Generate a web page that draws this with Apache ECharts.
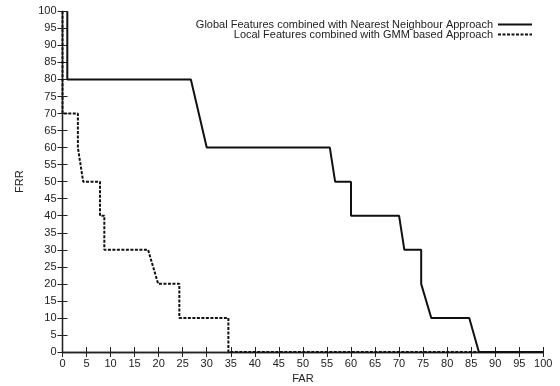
<!DOCTYPE html>
<html>
<head>
<meta charset="utf-8">
<script src="https://cdn.jsdelivr.net/npm/echarts@6/dist/echarts.min.js"></script>
<style>html,body{margin:0;padding:0;background:#fff}#c{width:560px;height:386px}</style>
</head>
<body>
<div id="c"></div>
<script>
var globalFAR = [1, 1, 26.7, 30, 55.6, 56.7, 60, 60, 70, 71.1, 74.6, 74.6, 76.7, 84.6, 86.6, 100];
var globalFRR = [100, 80, 80, 60, 60, 50, 50, 40, 40, 30, 30, 20, 10, 10, 0, 0];
var localFAR = [0, 0, 3.2, 3.2, 4.3, 7.8, 7.8, 8.7, 8.7, 17.8, 19.9, 24.3, 24.3, 34.5, 34.5, 100];
var localFRR = [100, 70, 70, 60, 50, 50, 40, 40, 30, 30, 20, 20, 10, 10, 0, 0];
var seriesNames = ['Global Features combined with Nearest Neighbour Approach', 'Local Features combined with GMM based Approach'];
var axisNames = ['FAR', 'FRR'];

function pairs(xs, ys) { return xs.map(function (x, i) { return [x, ys[i]]; }); }

var font = 'Liberation Sans, Arial, sans-serif';
var fs = 11;
var txt = '#222';
var axisLine = { show: true, lineStyle: { color: '#222', width: 1.3 } };
var tick = { show: true, inside: true, length: 5, lineStyle: { color: '#222', width: 1 } };

var chart = echarts.init(document.getElementById('c'));
chart.setOption({
  animation: false,
  backgroundColor: '#fff',
  grid: { left: 62.5, right: 16.7, top: 11.3, bottom: 34, containLabel: false, outerBoundsMode: 'none' },
  legend: {
    orient: 'vertical',
    right: 27,
    top: 19,
    padding: 0,
    align: 'right',
    itemWidth: 34,
    itemHeight: 10,
    itemGap: -1,
    itemStyle: { color: 'rgba(0,0,0,0)', borderWidth: 0, opacity: 0 },
    textStyle: { fontFamily: font, fontSize: fs, color: txt, lineHeight: 10, padding: [0, 0, 0, 0] },
    data: seriesNames
  },
  xAxis: [{
    type: 'value', min: 0, max: 100, interval: 5,
    name: axisNames[0], nameLocation: 'middle', nameGap: 20,
    nameTextStyle: { fontFamily: font, fontSize: fs, color: txt },
    axisLine: axisLine, axisTick: tick,
    axisLabel: { fontFamily: font, fontSize: fs, color: txt, margin: 6 },
    splitLine: { show: false }
  }, {
    type: 'value', min: 0, max: 100, interval: 5, position: 'top',
    axisLine: axisLine, axisTick: tick, axisLabel: { show: false }, splitLine: { show: false }
  }],
  yAxis: [{
    type: 'value', min: 0, max: 100, interval: 5,
    name: axisNames[1], nameLocation: 'middle', nameGap: 37,
    nameTextStyle: { fontFamily: font, fontSize: fs, color: txt },
    axisLine: axisLine, axisTick: tick,
    axisLabel: { fontFamily: font, fontSize: fs, color: txt, margin: 6 },
    splitLine: { show: false }
  }, {
    type: 'value', min: 0, max: 100, interval: 5, position: 'right',
    axisLine: axisLine, axisTick: tick, axisLabel: { show: false }, splitLine: { show: false }
  }],
  series: [{
    name: seriesNames[0], type: 'line', symbol: 'none',
    lineStyle: { color: '#111', width: 2 },
    itemStyle: { color: '#111' },
    data: pairs(globalFAR, globalFRR)
  }, {
    name: seriesNames[1], type: 'line', symbol: 'none',
    lineStyle: { color: '#111', width: 2, type: [3, 1.5] },
    itemStyle: { color: '#111' },
    data: pairs(localFAR, localFRR)
  }]
});
</script>
</body>
</html>
